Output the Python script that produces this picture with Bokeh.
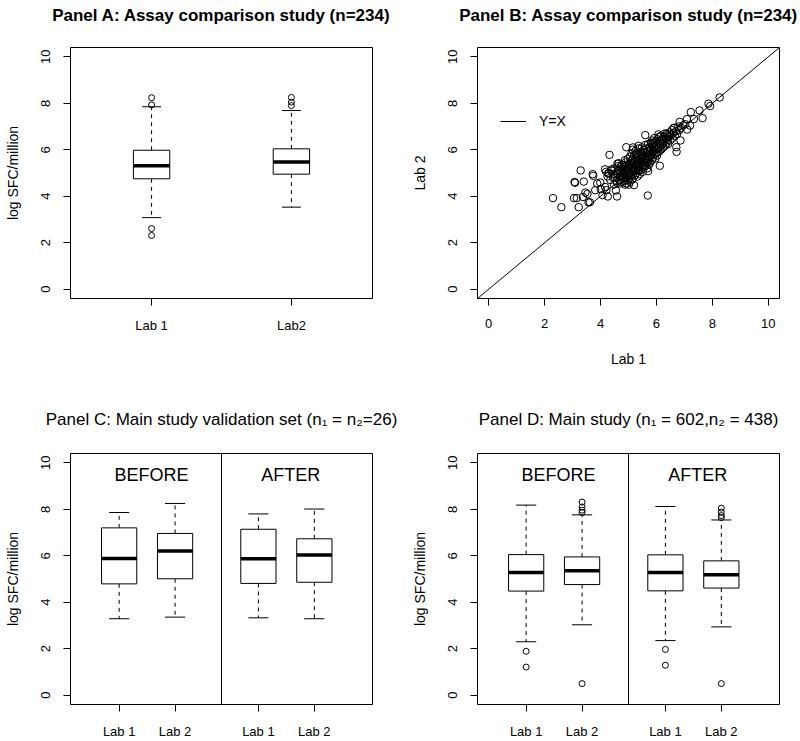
import math
from bokeh.plotting import figure
from bokeh.models import FixedTicker, Span, Legend, LegendItem, Range1d, Title
from bokeh.layouts import gridplot
from bokeh.embed import file_html
from bokeh.resources import INLINE
from bokeh.core.properties import value

FONT = "Liberation Sans"

# ---------------- data ----------------
y_ticks = [0, 2, 4, 6, 8, 10]

# Panel A
a_title = "Panel A: Assay comparison study (n=234)"
a_labels = ["Lab 1", "Lab2"]
a_pos = [1, 2]
a_lo = [3.08, 3.53]
a_q1 = [4.75, 4.95]
a_med = [5.31, 5.47]
a_q3 = [5.98, 6.04]
a_hi = [7.85, 7.69]
a_out = [[8.24, 7.93, 2.61, 2.31], [8.25, 8.05, 7.90]]

# Panel B (Lab 1 vs Lab 2)
b_title = "Panel B: Assay comparison study (n=234)"
b_lab1 = [
    2.30, 2.60, 3.29, 3.07, 3.09, 3.05, 3.15, 3.22, 3.40, 3.37, 3.46, 3.53, 3.57, 3.62,
    3.72, 3.74, 3.81, 3.88, 3.99, 4.01, 4.07, 4.16, 4.16, 4.21, 4.26, 4.32, 4.27, 4.38,
    4.45, 4.55, 4.59, 4.59, 4.65, 4.92, 5.16, 5.36, 5.20, 5.01, 4.88, 5.60, 5.69, 5.70,
    5.89, 6.07, 6.12, 6.37, 6.62, 6.71, 6.72, 6.86, 6.83, 7.03, 7.09, 7.10, 7.20, 7.23,
    7.34, 7.54, 7.65, 7.86, 7.92, 8.26,
    4.62, 4.66, 4.68, 4.70, 4.72, 4.74, 4.75, 4.77, 4.78, 4.80, 4.80, 4.70, 4.64, 4.76,
    4.82, 4.83, 4.85, 4.86, 4.88, 4.89, 4.90, 4.91, 4.92, 4.94, 4.95, 4.96, 4.97, 4.98,
    4.99, 5.00, 4.87, 4.93,
    5.01, 5.02, 5.03, 5.04, 5.05, 5.06, 5.07, 5.08, 5.09, 5.10, 5.11, 5.12, 5.13, 5.14,
    5.15, 5.16, 5.17, 5.18, 5.19, 5.20, 5.05, 5.15,
    5.21, 5.22, 5.23, 5.24, 5.25, 5.26, 5.27, 5.28, 5.29, 5.30, 5.31, 5.32, 5.33, 5.34,
    5.35, 5.36, 5.37, 5.38, 5.39, 5.40, 5.25, 5.35,
    5.41, 5.42, 5.43, 5.44, 5.45, 5.46, 5.47, 5.48, 5.49, 5.50, 5.51, 5.52, 5.53, 5.54,
    5.55, 5.56, 5.57, 5.58, 5.59, 5.60,
    5.61, 5.62, 5.63, 5.64, 5.65, 5.66, 5.67, 5.68, 5.69, 5.70, 5.71, 5.72, 5.73, 5.75,
    5.76, 5.77, 5.78, 5.80,
    5.81, 5.82, 5.83, 5.84, 5.85, 5.86, 5.88, 5.89, 5.90, 5.92, 5.93, 5.94, 5.96, 5.97,
    5.98, 5.99,
    6.01, 6.02, 6.03, 6.05, 6.06, 6.08, 6.09, 6.10, 6.12, 6.13, 6.15, 6.16, 6.18, 6.20,
    6.22, 6.24, 6.25, 6.28, 6.30, 6.32, 6.34, 6.36, 6.38, 6.40, 6.42, 6.45, 6.47, 6.49,
    6.52, 6.55, 6.58, 6.60, 6.63, 6.66, 6.70, 6.74, 6.78, 6.82, 6.88, 6.95,
    4.20, 4.25, 4.30, 4.35, 4.40, 4.45, 4.50, 4.52, 4.55, 4.58, 4.48, 4.60,
]
b_lab2 = [
    3.92, 3.53, 5.11, 4.61, 4.58, 3.92, 3.92, 3.53, 4.63, 3.97, 4.16, 4.10, 3.74, 3.74,
    4.95, 4.88, 4.26, 4.55, 4.59, 4.30, 4.05, 5.16, 4.40, 4.26, 3.99, 5.78, 4.98, 5.15,
    4.81, 4.25, 3.99, 4.58, 5.42, 6.11, 6.10, 6.17, 4.48, 4.50, 4.50, 6.63, 4.03, 5.08,
    6.31, 6.66, 5.31, 6.69, 6.93, 6.11, 5.91, 6.40, 7.20, 7.10, 7.32, 6.87, 7.04, 7.62,
    7.32, 7.69, 7.36, 7.98, 7.88, 8.25,
    4.95, 5.10, 4.70, 5.25, 4.85, 5.05, 4.62, 5.35, 4.98, 5.15, 4.75, 4.55, 5.30, 5.20,
    5.02, 4.80, 5.28, 4.65, 5.10, 4.92, 5.45, 5.20, 4.78, 5.05, 5.35, 4.88, 5.60, 5.12,
    4.70, 5.25, 5.55, 4.55,
    4.95, 5.40, 5.15, 4.80, 5.70, 5.30, 5.02, 5.50, 4.88, 5.22, 5.85, 5.10, 4.72, 5.38,
    5.60, 4.95, 5.25, 5.48, 5.05, 5.75, 4.62, 6.00,
    5.15, 5.55, 4.90, 5.35, 5.95, 5.20, 5.65, 5.00, 5.45, 5.82, 5.28, 4.85, 5.58, 5.10,
    6.05, 5.40, 5.72, 5.18, 5.52, 4.95, 5.80, 5.30,
    5.62, 5.30, 5.90, 5.12, 5.50, 5.78, 5.25, 6.10, 5.40, 5.68, 5.05, 5.88, 5.55, 5.20,
    6.00, 5.35, 5.75, 5.48, 6.20, 5.60,
    5.30, 5.85, 5.55, 6.05, 5.42, 5.70, 5.20, 5.95, 5.62, 6.25, 5.50, 5.82, 5.35, 6.10,
    5.68, 5.95, 5.45, 6.30,
    5.75, 6.02, 5.55, 6.40, 5.88, 6.15, 5.65, 6.28, 5.95, 6.50, 5.80, 6.10, 5.62, 6.35,
    6.00, 5.85,
    6.20, 5.75, 6.45, 6.05, 5.90, 6.30, 6.55, 6.12, 5.95, 6.38, 6.20, 6.60, 6.02, 6.45,
    6.25, 6.10, 6.55, 6.35, 6.70, 6.18, 6.48, 6.30, 6.62, 6.42, 6.25, 6.58, 6.75, 6.40,
    6.62, 6.85, 6.50, 6.72, 6.95, 6.60, 6.80, 6.68, 7.00, 6.85, 6.95, 7.05,
    5.05, 4.85, 5.00, 4.70, 5.10, 4.95, 5.20, 4.80, 5.00, 4.65, 4.50, 5.40,
]

# Panels C and D (before / after, Lab 1 / Lab 2)
cd_labels = ["Lab 1", "Lab 2", "Lab 1", "Lab 2"]
cd_pos = [0.87, 1.87, 3.36, 4.36]
cd_divider = 2.7
cd_text = ["BEFORE", "AFTER"]
cd_text_x = [1.45, 3.94]
cd_text_y = [9.47, 9.47]

c_title = "Panel C: Main study validation set (n\u2081 = n\u2082=26)"
c_lo = [3.29, 3.36, 3.33, 3.29]
c_q1 = [4.79, 5.01, 4.81, 4.86]
c_med = [5.88, 6.20, 5.87, 6.03]
c_q3 = [7.20, 6.96, 7.14, 6.73]
c_hi = [7.86, 8.25, 7.80, 8.01]
c_out = [[], [], [], []]

d_title = "Panel D: Main study (n\u2081 = 602,n\u2082 = 438)"
d_lo = [2.30, 3.03, 2.35, 2.94]
d_q1 = [4.48, 4.76, 4.49, 4.61]
d_med = [5.28, 5.35, 5.28, 5.18]
d_q3 = [6.05, 5.95, 6.04, 5.78]
d_hi = [8.18, 7.76, 8.12, 7.54]
d_out = [[1.89, 1.21], [8.31, 8.10, 7.96, 7.86, 0.50], [1.97, 1.29], [8.05, 7.88, 7.73, 7.64, 0.50]]

Y_RANGE = (-0.4, 10.4)


def base_fig(width, height, xr, left, right, top, bottom, title, bold, spacer_standoff):
    p = figure(width=width, height=height, x_range=Range1d(*xr), y_range=Range1d(*Y_RANGE),
               output_backend="svg", toolbar_location=None,
               min_border_left=left, min_border_right=right,
               min_border_top=top, min_border_bottom=bottom)
    p.xgrid.visible = False
    p.ygrid.visible = False
    p.outline_line_color = "black"
    p.outline_line_width = 1
    p.outline_line_alpha = 1
    p.background_fill_color = "white"
    p.border_fill_color = "white"
    p.title.text = ""
    # empty spacer between the frame and the title
    p.add_layout(Title(text=" ", text_font_size="1px", standoff=spacer_standoff), "above")
    p.add_layout(Title(text=title, align="center", text_font=FONT, text_font_size="17px",
                       text_font_style="bold" if bold else "normal", text_color="black",
                       standoff=0), "above")
    for ax in (p.xaxis[0], p.yaxis[0]):
        ax.axis_line_color = None
        ax.major_tick_line_color = "black"
        ax.major_tick_in = 0
        ax.major_tick_out = 7
        ax.minor_tick_line_color = None
        ax.major_label_text_font = FONT
        ax.major_label_text_font_size = "13px"
        ax.major_label_text_color = "black"
        ax.axis_label_text_font = FONT
        ax.axis_label_text_font_size = "14px"
        ax.axis_label_text_font_style = "normal"
        ax.axis_label_text_color = "black"
    p.yaxis.ticker = FixedTicker(ticks=y_ticks)
    p.yaxis.major_label_orientation = "parallel"
    return p


def draw_boxes(p, pos, lo, q1, med, q3, hi, outs, box_w, cap_w, out_size):
    left = [x - box_w / 2 for x in pos]
    right = [x + box_w / 2 for x in pos]
    cl = [x - cap_w / 2 for x in pos]
    cr = [x + cap_w / 2 for x in pos]
    p.segment(x0=pos, y0=q3, x1=pos, y1=hi, line_color="black", line_width=1, line_dash="4 4")
    p.segment(x0=pos, y0=q1, x1=pos, y1=lo, line_color="black", line_width=1, line_dash="4 4")
    p.segment(x0=cl, y0=hi, x1=cr, y1=hi, line_color="black", line_width=1)
    p.segment(x0=cl, y0=lo, x1=cr, y1=lo, line_color="black", line_width=1)
    p.quad(left=left, right=right, bottom=q1, top=q3, fill_color="white",
           line_color="black", line_width=1)
    p.segment(x0=left, y0=med, x1=right, y1=med, line_color="black", line_width=3.5)
    ox, oy = [], []
    for x, vals in zip(pos, outs):
        for v in vals:
            ox.append(x)
            oy.append(v)
    if ox:
        p.scatter(x=ox, y=oy, marker="circle", size=out_size, fill_color=None,
                  line_color="black", line_width=1)


# ---------------- Panel A ----------------
pa = base_fig(400, 370, (0.42, 2.58), 70, 28, 47, 72, a_title, True, 20)
draw_boxes(pa, a_pos, a_lo, a_q1, a_med, a_q3, a_hi, a_out, 0.26, 0.135, 6)
pa.xaxis.ticker = FixedTicker(ticks=a_pos)
pa.xaxis.major_label_overrides = {p_: l for p_, l in zip(a_pos, a_labels)}
pa.xaxis.major_label_standoff = 12
pa.yaxis.axis_label = "log SFC/million"
pa.yaxis.major_label_standoff = 13
pa.yaxis.axis_label_standoff = 18

# ---------------- Panel B ----------------
pb = base_fig(400, 370, Y_RANGE, 77, 21, 47, 72, b_title, True, 20)
diag = pb.line(x=list(Y_RANGE), y=list(Y_RANGE), line_color="black", line_width=1)
pb.scatter(x=b_lab1, y=b_lab2, marker="circle", size=7.5, fill_color=None,
           line_color="black", line_width=1)
pb.xaxis.ticker = FixedTicker(ticks=y_ticks)
pb.xaxis.axis_label = "Lab 1"
pb.yaxis.axis_label = "Lab 2"
pb.xaxis.major_label_standoff = 13
pb.xaxis.axis_label_standoff = 20
pb.yaxis.major_label_standoff = 13
pb.yaxis.axis_label_standoff = 18
legend = Legend(items=[LegendItem(label="Y=X", renderers=[diag])], location=(23, 167),
                padding=0, margin=0, border_line_color=None, background_fill_alpha=0,
                glyph_width=26, label_standoff=13, spacing=0,
                label_text_font=FONT, label_text_font_size="14px", label_text_color="black")
pb.add_layout(legend)


# ---------------- Panels C, D ----------------
def cd_panel(left, right, title, lo, q1, med, q3, hi, outs):
    p = base_fig(400, 371, (0, 5.4), left, right, 83, 37, title, False, 22)
    draw_boxes(p, cd_pos, lo, q1, med, q3, hi, outs, 0.63, 0.36, 6)
    p.add_layout(Span(location=cd_divider, dimension="height", line_color="black", line_width=1))
    p.text(x=cd_text_x, y=cd_text_y, text=cd_text, text_font=value(FONT),
           text_font_size="18px", text_align="center", text_baseline="middle", text_color="black")
    p.xaxis.ticker = FixedTicker(ticks=cd_pos)
    p.xaxis.major_label_overrides = {p_: l for p_, l in zip(cd_pos, cd_labels)}
    p.xaxis.major_label_standoff = 12
    p.yaxis.axis_label = "log SFC/million"
    return p


pc = cd_panel(70, 28, c_title, c_lo, c_q1, c_med, c_q3, c_hi, c_out)
pc.yaxis.major_label_standoff = 13
pc.yaxis.axis_label_standoff = 18
pd_ = cd_panel(77, 21, d_title, d_lo, d_q1, d_med, d_q3, d_hi, d_out)
pd_.yaxis.major_label_standoff = 13
pd_.yaxis.axis_label_standoff = 18

grid = gridplot([[pa, pb], [pc, pd_]], toolbar_location=None)

open("out.html", "w").write(file_html(grid, INLINE))
